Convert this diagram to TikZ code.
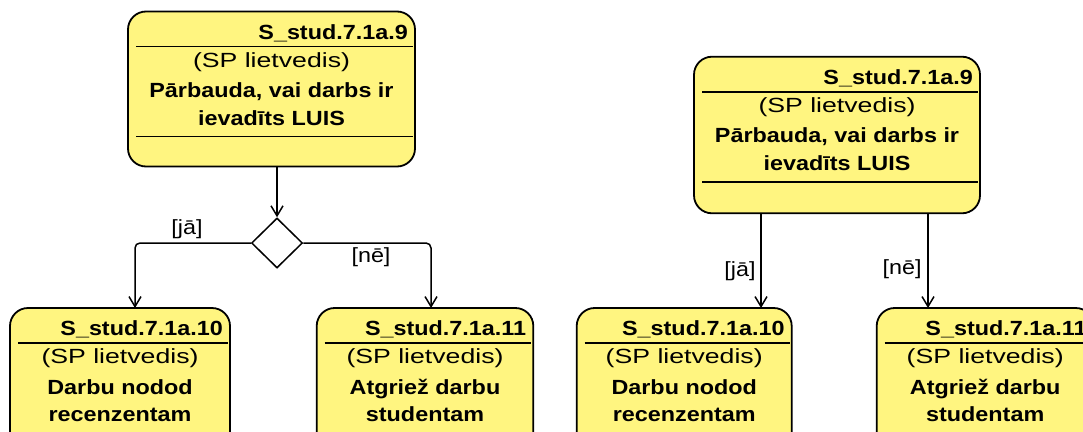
\documentclass[tikz,border=0pt]{standalone}
\usepackage{fontspec}
\setmainfont{Liberation Sans}[FakeStretch=1.14]
\newfontfamily\rolefont{Liberation Sans}[FakeStretch=1.3]
\usetikzlibrary{arrows.meta,shapes.geometric,calc}
\definecolor{actfill}{RGB}{255,245,128}

\tikzset{
  actbox/.style={draw=black, line width=1.8pt, fill=actfill, rounded corners=18pt,
    inner sep=0pt, outer sep=0pt},
  rule/.style={line width=1.6pt},
  idtext/.style={font=\bfseries\fontsize{20.5}{24}\selectfont, inner sep=0pt, anchor=base east},
  roletext/.style={font=\rolefont\fontsize{20.5}{24}\selectfont, inner sep=0pt, anchor=base},
  tasktext/.style={font=\bfseries\fontsize{20.5}{24}\selectfont, inner sep=0pt, anchor=base},
  guard/.style={font=\fontsize{20.5}{24}\selectfont, inner sep=0pt},
  decision/.style={draw=black, line width=1.5pt, fill=white, shape=diamond, inner sep=0pt,
    minimum width=51pt, minimum height=50pt},
  flow/.style={line width=1.5pt, -{Straight Barb[length=10pt,width=12pt,line width=1.5pt]}},
}

% activity box: name, centre, width, height, id, task line 1, task line 2
\newcommand\actbox[7]{%
  \node[actbox, minimum width=#3, minimum height=#4] (#1) at #2 {};
  \node[idtext] (#1-id) at ($(#1.north east)+(-7,27.5)$) {#5};
  \draw[rule] ($(#1.north west)+(8,35)$) -- ($(#1.north east)+(-2,35)$);
  \node[roletext] (#1-role) at ($(#1.north)+(0,55.5)$) {(SP lietvedis)};
  \node[tasktext] (#1-t1) at ($(#1.north)+(0,86)$) {#6};
  \node[tasktext] (#1-t2) at ($(#1.north)+(0,113.5)$) {#7};
  \draw[rule] ($(#1.north west)+(8,125)$) -- ($(#1.north east)+(-2,125)$);
}

\begin{document}
\begin{tikzpicture}[x=1pt,y=-1pt]
  \useasboundingbox (0,0) rectangle (1083,431);
  \clip (0,0) rectangle (1083,431);

  % left variant: check with a decision node
  \actbox{A}{(271.5,89)}{287}{155}{S\_stud.7.1a.9}{Pārbauda, vai darbs ir}{ievadīts LUIS}
  \actbox{B}{(120,385.5)}{220}{155}{S\_stud.7.1a.10}{Darbu nodod}{recenzentam}
  \actbox{C}{(425,385.5)}{216.6}{155}{S\_stud.7.1a.11}{Atgriež darbu}{studentam}
  \node[decision] (dec) at (277,243) {};

  \draw[flow] (A.south -| dec.north) -- (dec.north);
  \draw[flow, rounded corners=5pt] (dec.west) -| ([xshift=15pt]B.north);
  \draw[flow, rounded corners=5pt] (dec.east) -| ([xshift=6pt]C.north);
  \node[guard] (ja1) at (187,229) {[jā]};
  \node[guard] (ne1) at (371,257) {[nē]};

  % right variant: guarded flows straight from the activity
  \actbox{D}{(837,135)}{286}{156.6}{S\_stud.7.1a.9}{Pārbauda, vai darbs ir}{ievadīts LUIS}
  \actbox{E}{(684.2,385.5)}{215}{155}{S\_stud.7.1a.10}{Darbu nodod}{recenzentam}
  \actbox{F}{(985.2,385.5)}{217}{155}{S\_stud.7.1a.11}{Atgriež darbu}{studentam}

  \draw[flow] ([xshift=76.8pt]E.north |- D.south) -- ([xshift=76.8pt]E.north);
  \draw[flow] ([xshift=-57.2pt]F.north |- D.south) -- ([xshift=-57.2pt]F.north);
  \node[guard] (ja2) at (740,271) {[jā]};
  \node[guard] (ne2) at (902,269) {[nē]};
\end{tikzpicture}
\end{document}
